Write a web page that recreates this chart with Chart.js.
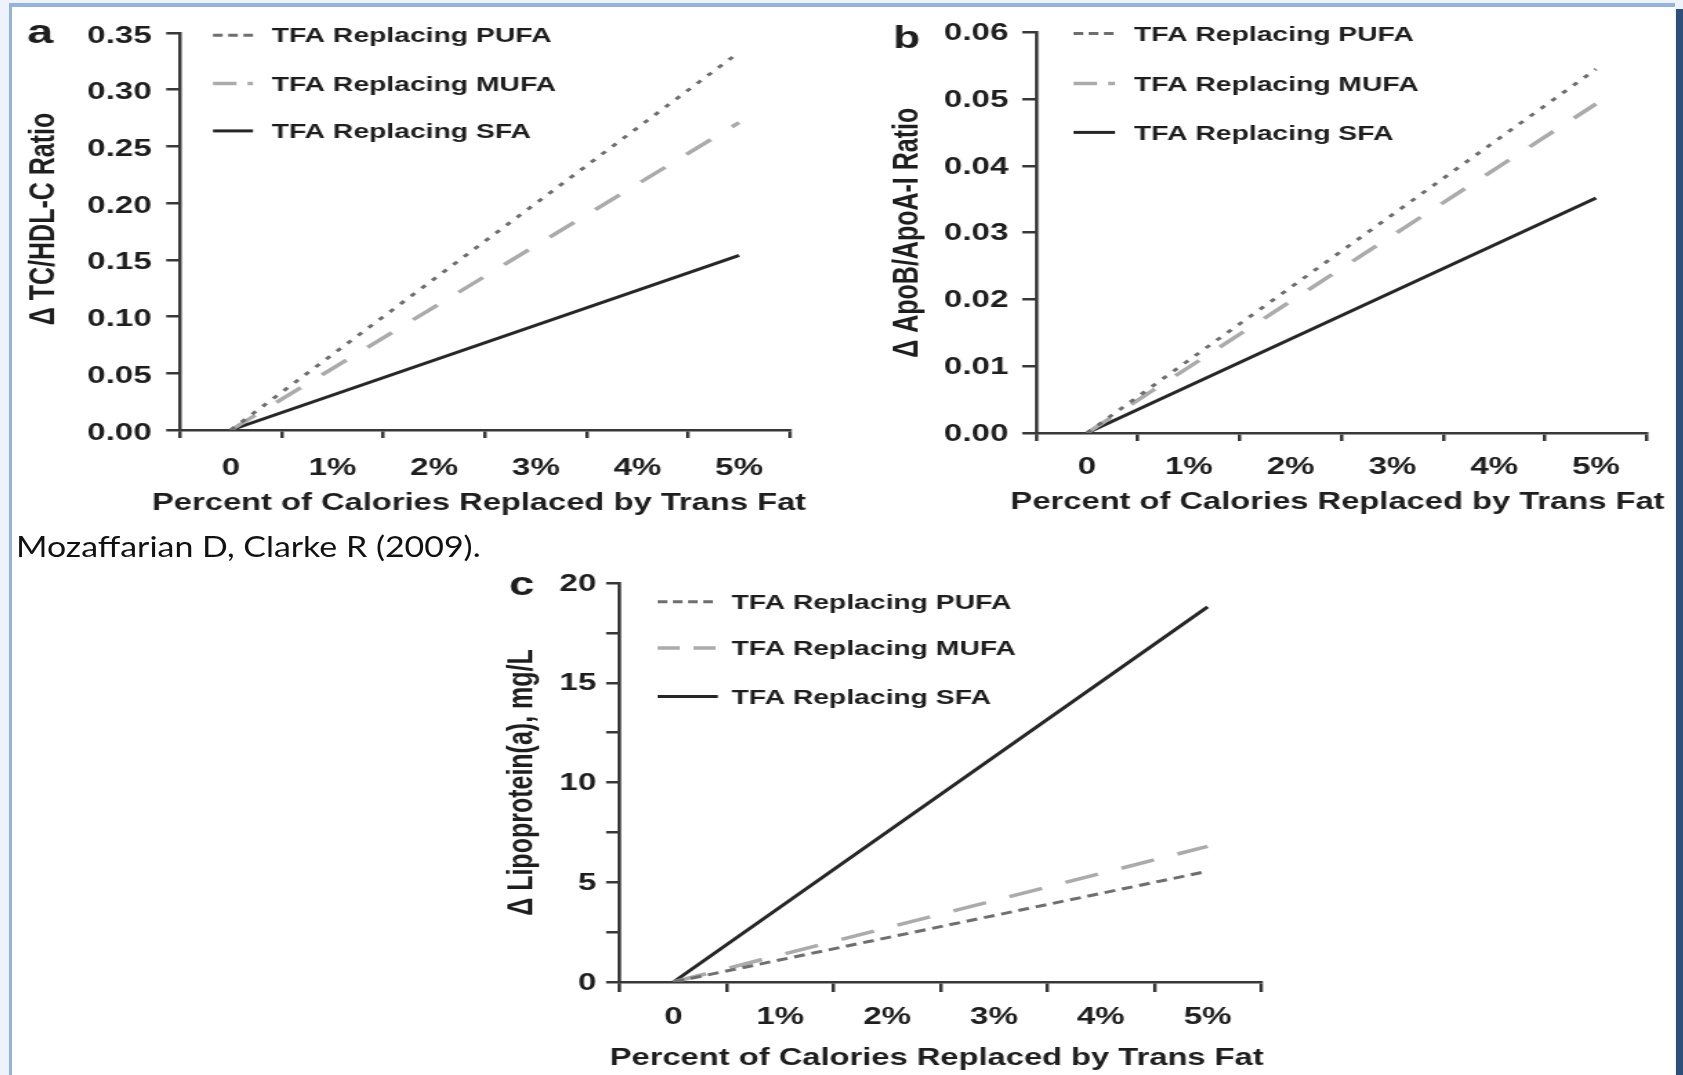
<!DOCTYPE html>
<html>
<head>
<meta charset="utf-8">
<title>Trans fat replacement effects</title>
<script src="https://cdn.jsdelivr.net/npm/chart.js@4.4.1/dist/chart.umd.min.js"></script>
<style>
  html, body { margin: 0; padding: 0; }
  body { width: 1683px; height: 1075px; position: relative; overflow: hidden; background: #eef3fb; }
  #sheet { position: absolute; left: 12px; top: 7px; width: 1663px; height: 1068px; background: #fff; }
  .edge { position: absolute; }
  .panel { position: absolute; transform-origin: 0 0; transform: scaleX(1.38); }
  #cite { position: absolute; left: 16px; top: 531px; font: 28px Lato, "Open Sans", sans-serif; color: #111; line-height: 30px; white-space: nowrap; transform-origin: 0 0; }
</style>
</head>
<body>
<div id="sheet"></div>
<div class="edge" style="left:9px;top:3px;width:3px;height:1072px;background:#95b3d7"></div>
<div class="edge" style="left:9px;top:3px;width:1666px;height:4px;background:#95b3d7"></div>
<div class="edge" style="left:1676px;top:9px;width:7px;height:1066px;background:#2d4f79"></div>

<div class="panel" style="left:14px;top:8px;width:587px;height:525px"><canvas id="chartA"></canvas></div>
<div class="panel" style="left:850px;top:8px;width:598px;height:525px"><canvas id="chartB"></canvas></div>
<div class="panel" style="left:470px;top:560px;width:593px;height:515px"><canvas id="chartC"></canvas></div>
<div id="cite">Mozaffarian D, Clarke R (2009).</div>

<script>
// categories on the x axis, and the two ends each line is drawn between
const xLabels = ['0', '1%', '2%', '3%', '4%', '5%'];
const xEnds = ['0', '5%'];
const seriesNames = ['TFA Replacing PUFA', 'TFA Replacing MUFA', 'TFA Replacing SFA'];
const xTitle = 'Percent of Calories Replaced by Trans Fat';

// a: change in TC/HDL-C ratio
const ticksA = [0, 0.05, 0.10, 0.15, 0.20, 0.25, 0.30, 0.35];
const pufaA = [0, 0.333];
const mufaA = [0, 0.271];
const sfaA = [0, 0.154];

// b: change in ApoB/ApoA-I ratio
const ticksB = [0, 0.01, 0.02, 0.03, 0.04, 0.05, 0.06];
const pufaB = [0, 0.0545];
const mufaB = [0, 0.0493];
const sfaB = [0, 0.0352];

// c: change in lipoprotein(a), mg/L (minor ticks every 2.5)
const ticksC = [0, 2.5, 5, 7.5, 10, 12.5, 15, 17.5, 20];
const labeledC = [0, 5, 10, 15, 20];
const pufaC = [0, 5.55];
const mufaC = [0, 6.8];
const sfaC = [0, 18.8];

const FONT = '"Liberation Sans", Arial, Helvetica, sans-serif';
const TXT = '#1e1e1e';
const AXIS = '#383838';

// the caption is a wider face than we have, so squeeze it to its width
const cite = document.getElementById('cite');
cite.style.transform = 'scaleX(' + (465 / cite.offsetWidth) + ')';

function pts(values) {
  return xEnds.map((x, i) => ({ x: x, y: values[i] }));
}

// legend sits inside the plot, top-left, one item per row
function legendPlugin(cfg) {
  return {
    id: 'insetLegend',
    afterDraw(chart) {
      const ctx = chart.ctx, a = chart.chartArea;
      ctx.save();
      chart.data.datasets.forEach((ds, i) => {
        const y = a.top + cfg.rows[i];
        ctx.strokeStyle = ds.borderColor;
        ctx.lineWidth = ds.borderWidth;
        ctx.setLineDash(cfg.dashes[i]);
        ctx.beginPath();
        ctx.moveTo(a.left + cfg.from, y);
        ctx.lineTo(a.left + cfg.to, y);
        ctx.stroke();
        ctx.setLineDash([]);
        ctx.fillStyle = TXT;
        ctx.font = 'bold 20.5px ' + FONT;
        ctx.textBaseline = 'middle';
        ctx.fillText(ds.label, a.left + cfg.textX, y + 1.5);
      });
      ctx.restore();
    }
  };
}

// panel letter, plus the x title (the built-in one gets squeezed to the axis width)
function labelPlugin(cfg) {
  return {
    id: 'panelLabels',
    afterDraw(chart) {
      const ctx = chart.ctx;
      ctx.save();
      ctx.fillStyle = TXT;
      ctx.font = 'bold ' + cfg.size + 'px ' + FONT;
      ctx.textBaseline = 'alphabetic';
      ctx.fillText(cfg.text, cfg.x, cfg.y);
      ctx.font = 'bold 23.7px ' + FONT;
      ctx.textAlign = 'center';
      ctx.textBaseline = 'middle';
      ctx.fillText(xTitle, cfg.titleX, cfg.titleY);
      ctx.restore();
    }
  };
}

function makePanel(id, p) {
  const tickFont = { family: FONT, size: 24, weight: 'bold' };
  new Chart(document.getElementById(id), {
    type: 'line',
    data: {
      labels: xLabels,
      datasets: [
        { label: seriesNames[0], data: pts(p.pufa), borderColor: '#6e6e6e', borderWidth: 3, borderDash: p.pufaDash },
        { label: seriesNames[1], data: pts(p.mufa), borderColor: '#ababab', borderWidth: 3.5, borderDash: p.mufaDash },
        { label: seriesNames[2], data: pts(p.sfa), borderColor: '#262626', borderWidth: 3 }
      ]
    },
    options: {
      responsive: true,
      maintainAspectRatio: false,
      animation: false,
      layout: { padding: { left: 0, top: p.padTop, right: p.padRight, bottom: 0 } },
      elements: { point: { radius: 0 }, line: { tension: 0, borderCapStyle: 'butt' } },
      plugins: { legend: { display: false }, tooltip: { enabled: false } },
      scales: {
        x: {
          type: 'category',
          offset: true,
          grid: { offset: true, drawOnChartArea: false, drawTicks: true, tickLength: p.xTick, color: AXIS, lineWidth: 2.5 },
          border: { display: true, color: AXIS, width: 2.5 },
          ticks: { color: TXT, font: tickFont, padding: p.xPad, maxRotation: 0, autoSkip: false },
          title: { display: false },
          afterFit: (s) => { s.height = p.xHeight; }
        },
        y: {
          min: p.ticks[0],
          max: p.ticks[p.ticks.length - 1],
          afterBuildTicks: (s) => { s.ticks = p.ticks.map(v => ({ value: v })); },
          grid: { drawOnChartArea: false, drawTicks: true, tickLength: 10, color: AXIS, lineWidth: 2.5 },
          border: { display: true, color: AXIS, width: 2.5 },
          ticks: { color: TXT, font: tickFont, padding: p.yPad, labelOffset: p.yLabelOffset, autoSkip: false, callback: p.fmt },
          title: {
            display: true, text: p.yTitle, color: TXT,
            font: { family: FONT, size: 25, weight: 'bold' }, padding: { top: p.yTitlePad, bottom: 0 }
          },
          afterFit: (s) => { s.width = p.yWidth; }
        }
      }
    },
    plugins: [legendPlugin(p.legend), labelPlugin(p.labels)]
  });
}

makePanel('chartA', {
  pufa: pufaA, mufa: mufaA, sfa: sfaA, ticks: ticksA,
  fmt: v => v.toFixed(2),
  yTitle: '\u2003\u0394 TC/HDL-C Ratio',
  pufaDash: [4, 7], mufaDash: [23, 20],
  padTop: 22, padRight: 24.7, yWidth: 120.3, xHeight: 103,
  xTick: 8, xPad: 16.4, yPad: 10.5, yTitlePad: 7.5, yLabelOffset: 3,
  legend: { from: 23.9, to: 52.9, textX: 66.4, rows: [2.3, 50.7, 98], dashes: [[7, 4], [17, 8], []] },
  labels: { text: 'a', x: 9.4, y: 35, size: 34, titleX: 337, titleY: 495.5 }
});

makePanel('chartB', {
  pufa: pufaB, mufa: mufaB, sfa: sfaB, ticks: ticksB,
  fmt: v => v.toFixed(2),
  yTitle: '\u0394 ApoB/ApoA-I Ratio',
  pufaDash: [4, 7], mufaDash: [23, 20],
  padTop: 24, padRight: 20.5, yWidth: 134.8, xHeight: 100,
  xTick: 8, xPad: 12.4, yPad: 10, yTitlePad: 27, yLabelOffset: 1,
  legend: { from: 27.2, to: 57.2, textX: 71, rows: [1.2, 51, 100], dashes: [[7, 4], [17, 8], []] },
  labels: { text: 'b', x: 31.2, y: 39.5, size: 32, titleX: 353.3, titleY: 494 }
});

makePanel('chartC', {
  pufa: pufaC, mufa: mufaC, sfa: sfaC, ticks: ticksC,
  fmt: v => labeledC.includes(v) ? String(v) : '',
  yTitle: '\u0394 Lipoprotein(a), mg/L',
  pufaDash: [8, 5], mufaDash: [25, 18],
  padTop: 23, padRight: 19.8, yWidth: 108.7, xHeight: 93,
  xTick: 10, xPad: 10.9, yPad: 7.2, yTitlePad: 23.4, yLabelOffset: 1,
  legend: { from: 27.3, to: 70.9, textX: 80.8, rows: [18.8, 65, 113.4], dashes: [[7, 4], [16, 10], []] },
  labels: { text: 'c', x: 28.3, y: 35, size: 33, titleX: 338.2, titleY: 498 }
});
</script>
</body>
</html>
